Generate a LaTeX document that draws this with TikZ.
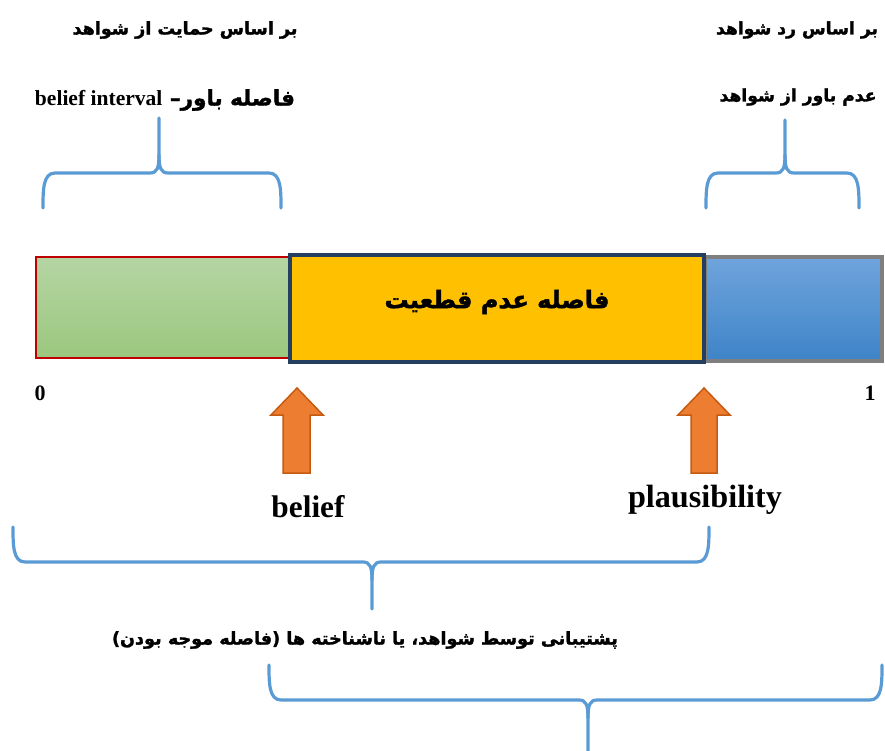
\documentclass[tikz,border=0pt]{standalone}
\usepackage{fontspec}
\setmainfont{Liberation Serif}
\newfontfamily\arabicfont[Script=Arabic,FakeBold=1.6]{DejaVu Sans}
\TeXXeTstate=1
\definecolor{bracecol}{HTML}{5B9BD5}
\definecolor{orfill}{HTML}{ED7D31}
\definecolor{ordraw}{HTML}{C55A11}
\definecolor{gtop}{HTML}{B5D5A3}
\definecolor{gbot}{HTML}{9BC77E}
\definecolor{gbord}{HTML}{C00000}
\definecolor{yfill}{HTML}{FFC000}
\definecolor{ybord}{HTML}{243F60}
\definecolor{btop}{HTML}{6FA4DC}
\definecolor{bbot}{HTML}{3E84C8}
\definecolor{bbord}{HTML}{7F7F7F}
\tikzset{
  bracestyle/.style={draw=bracecol,line width=3.2pt,line cap=round,line join=round},
  uparrow/.style={fill=orfill,draw=ordraw,line width=1.5pt,line join=miter},
  lbl/.style={inner sep=0pt,outer sep=0pt,anchor=center},
  barbox/.style={inner sep=0pt,outer sep=0pt,anchor=north west},
}
\begin{document}
\begin{tikzpicture}[x=1pt,y=-1pt]
\useasboundingbox (0,0) rectangle (885,751);

% top labels
\node[lbl] (t1) at (185,30) {\resizebox{225pt}{!}{\arabicfont\bfseries\beginR بر اساس حمایت از شواهد\endR}};
\node[lbl] (t2) at (165,100) {\resizebox{260pt}{!}{\arabicfont\bfseries\beginR فاصله باور– \beginL{\rmfamily\bfseries belief interval}\endL\endR}};
\node[lbl] (t3) at (797,30) {\resizebox{162pt}{!}{\arabicfont\bfseries\beginR بر اساس رد شواهد\endR}};
\node[lbl] (t4) at (798,97) {\resizebox{157pt}{!}{\arabicfont\bfseries\beginR عدم باور از شواهد\endR}};

% top braces
\draw[bracestyle] (43,208) .. controls (43,190) and (43,173) .. (55,173) -- (150,173)
   .. controls (157,173) and (159,168) .. (159,155) -- (159,118);
\draw[bracestyle] (281,208) .. controls (281,190) and (281,173) .. (269,173) -- (168,173)
   .. controls (161,173) and (159,168) .. (159,155);
\draw[bracestyle] (706,208) .. controls (706,190) and (706,173) .. (718,173) -- (776,173)
   .. controls (783,173) and (785,168) .. (785,155) -- (785,120);
\draw[bracestyle] (859,208) .. controls (859,190) and (859,173) .. (847,173) -- (794,173)
   .. controls (787,173) and (785,168) .. (785,155);

% bar
\node[barbox,draw=gbord,line width=2pt,top color=gtop,bottom color=gbot,
      minimum width=253pt,minimum height=101pt] (green) at (36,257) {};
\node[barbox,draw=bbord,line width=4pt,top color=btop,bottom color=bbot,
      minimum width=177pt,minimum height=104pt] (blue) at (705,257) {};
\node[barbox,draw=ybord,line width=4pt,fill=yfill,
      minimum width=414pt,minimum height=107pt] (yellow) at (290,255) {};
\node[lbl] (unc) at (497,302) {\resizebox{225pt}{!}{\arabicfont\bfseries\beginR فاصله عدم قطعیت\endR}};

% 0 and 1
\node[lbl,font=\bfseries\fontsize{22}{24}\selectfont] (zero) at (40,393) {0};
\node[lbl,font=\bfseries\fontsize{22}{24}\selectfont] (one) at (870,393) {1};

% arrows
\draw[uparrow] (297,388) -- (323,415) -- (310,415) -- (310,473) -- (283,473) -- (283,415) -- (271,415) -- cycle;
\draw[uparrow] (704,388) -- (730,415) -- (717,415) -- (717,473) -- (691,473) -- (691,415) -- (678,415) -- cycle;

\node[lbl] (bel) at (308,507) {\resizebox{73pt}{!}{\bfseries belief}};
\node[lbl] (pla) at (705,500) {\resizebox{154pt}{!}{\bfseries plausibility}};

% bottom brace 1
\draw[bracestyle] (13,527) .. controls (13,545) and (13,562) .. (25,562) -- (363,562)
   .. controls (370,562) and (372,567) .. (372,580) -- (372,609);
\draw[bracestyle] (709,527) .. controls (709,545) and (709,562) .. (697,562) -- (381,562)
   .. controls (374,562) and (372,567) .. (372,580);

\node[lbl] (t6) at (365,640) {\resizebox{506pt}{!}{\arabicfont\bfseries\beginR پشتیبانی توسط شواهد، یا ناشناخته ها (فاصله موجه بودن)\endR}};

% bottom brace 2
\draw[bracestyle] (269,665) .. controls (269,683) and (269,700) .. (281,700) -- (579,700)
   .. controls (586,700) and (588,705) .. (588,718) -- (588,751);
\draw[bracestyle] (882,665) .. controls (882,683) and (882,700) .. (870,700) -- (597,700)
   .. controls (590,700) and (588,705) .. (588,718);
\end{tikzpicture}
\end{document}
